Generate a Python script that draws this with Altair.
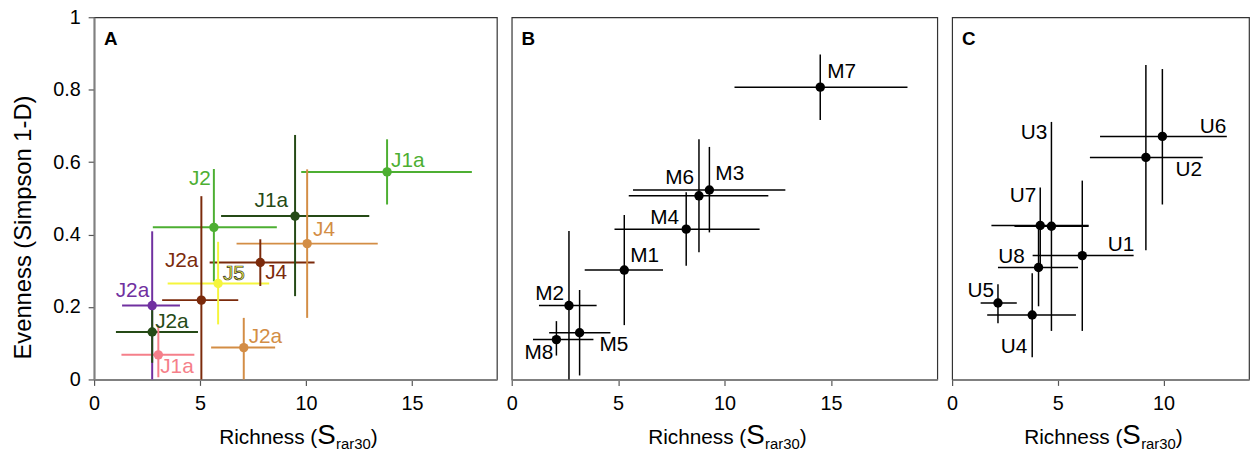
import altair as alt
import pandas as pd

FONT = "Liberation Sans"

# ---------------- Panel A ----------------
a_label = ["J1a", "J1a", "J2", "J4", "J4", "J5", "J2a", "J2a", "J2a", "J2a", "J1a"]
a_series = ["lightgreen", "darkgreen", "lightgreen", "tan", "brown", "yellow",
            "brown", "purple", "darkgreen", "tan", "pink"]
a_x = [13.82, 9.48, 5.65, 10.05, 7.84, 5.85, 5.06, 2.74, 2.74, 7.06, 3.03]
a_y = [0.573, 0.451, 0.420, 0.375, 0.323, 0.265, 0.219, 0.204, 0.131, 0.088, 0.068]
a_xlo = [9.77, 5.99, 2.77, 6.72, 5.45, 3.47, 3.21, 1.32, 1.03, 5.52, 1.29]
a_xhi = [17.82, 12.98, 8.62, 13.38, 10.40, 8.26, 6.80, 4.05, 4.90, 8.54, 4.73]
a_ylo = [0.483, 0.230, 0.271, 0.170, 0.258, 0.152, 0.0, 0.0, 0.046, 0.0, 0.006]
a_yhi = [0.663, 0.675, 0.581, 0.580, 0.387, 0.380, 0.506, 0.409, 0.202, 0.170, 0.150]
a_lx = [14.01, 9.15, 5.51, 10.33, 8.07, 6.08, 4.92, 2.60, 2.88, 7.29, 3.12]
a_ly = [0.603, 0.492, 0.554, 0.413, 0.293, 0.292, 0.328, 0.245, 0.158, 0.118, 0.035]
a_align = ["left", "right", "right", "left", "left", "left", "right", "right", "left", "left", "left"]

palette = {
    "lightgreen": "#4daf32",
    "darkgreen": "#254a16",
    "tan": "#d38d45",
    "brown": "#7b2a0b",
    "yellow": "#f5f53c",
    "purple": "#7030a0",
    "pink": "#f57f8a",
}

# ---------------- Panel B ----------------
b_label = ["M7", "M3", "M6", "M4", "M1", "M2", "M5", "M8"]
b_x = [14.50, 9.29, 8.80, 8.20, 5.29, 2.69, 3.19, 2.10]
b_y = [0.807, 0.523, 0.507, 0.415, 0.302, 0.204, 0.129, 0.110]
b_xlo = [10.47, 5.70, 5.50, 4.83, 3.43, 1.28, 1.76, 1.00]
b_xhi = [18.60, 12.86, 12.06, 11.65, 7.11, 3.99, 4.64, 3.84]
b_ylo = [0.716, 0.406, 0.351, 0.314, 0.150, 0.0, 0.011, 0.066]
b_yhi = [0.897, 0.642, 0.663, 0.517, 0.454, 0.410, 0.247, 0.161]
b_lx = [14.83, 9.57, 8.57, 7.87, 5.57, 2.46, 4.12, 1.96]
b_ly = [0.848, 0.567, 0.556, 0.445, 0.340, 0.237, 0.096, 0.072]
b_align = ["left", "left", "right", "right", "left", "right", "left", "right"]

# ---------------- Panel C ----------------
c_label = ["U6", "U2", "U3", "U7", "U1", "U8", "U5", "U4"]
c_x = [9.95, 9.17, 4.70, 4.17, 6.16, 4.09, 2.17, 3.79]
c_y = [0.671, 0.613, 0.423, 0.425, 0.342, 0.309, 0.211, 0.178]
c_xlo = [7.00, 6.52, 2.95, 1.86, 3.81, 2.17, 1.35, 1.66]
c_xhi = [13.00, 11.86, 6.46, 6.46, 8.59, 5.96, 3.06, 5.86]
c_ylo = [0.483, 0.357, 0.134, 0.316, 0.134, 0.202, 0.155, 0.061]
c_yhi = [0.857, 0.868, 0.711, 0.530, 0.549, 0.423, 0.263, 0.293]
c_lx = [11.72, 10.57, 4.51, 3.98, 7.37, 3.44, 1.98, 3.56]
c_ly = [0.698, 0.577, 0.680, 0.507, 0.372, 0.339, 0.244, 0.090]
c_align = ["left", "left", "right", "right", "left", "right", "right", "right"]

x_ticks = [0, 5, 10, 15]
y_ticks = [0, 0.2, 0.4, 0.6, 0.8, 1]

H = 366


def frame(labels, x, y, xlo, xhi, ylo, yhi, lx, ly, align, series=None):
    d = dict(label=labels, x=x, y=y, xlo=xlo, xhi=xhi, ylo=ylo, yhi=yhi,
             lx=lx, ly=ly, align=align)
    d["series"] = series if series is not None else ["black"] * len(labels)
    return pd.DataFrame(d)


def panel(df, xmax, width, letter, show_y, colored, title_shift):
    xs = alt.Scale(domain=[0, xmax], nice=False, zero=False)
    ys = alt.Scale(domain=[0, 1], nice=False)
    xaxis = alt.Axis(values=x_ticks, title=None, labelFlush=False, grid=False)
    if show_y:
        yaxis = alt.Axis(values=y_ticks, format="~g", title="Evenness (Simpson 1-D)",
                         labelFlush=False, grid=False, titleFontSize=24,
                         titleX=-71, titleY=212, titleBaseline="middle",
                         titleAngle=270)
    else:
        yaxis = None
    if colored:
        col = alt.Color("series:N", legend=None,
                        scale=alt.Scale(domain=list(palette.keys()),
                                        range=list(palette.values())))
        lw = 2
    else:
        col = alt.value("black")
        lw = 1.5
    base = alt.Chart(df)
    hr = base.mark_rule(strokeWidth=lw).encode(
        x=alt.X("xlo:Q", scale=xs, axis=xaxis), x2="xhi:Q",
        y=alt.Y("y:Q", scale=ys, axis=yaxis), color=col)
    vr = base.mark_rule(strokeWidth=lw).encode(
        x=alt.X("x:Q", scale=xs), y=alt.Y("ylo:Q", scale=ys), y2="yhi:Q", color=col)
    pt = base.mark_circle(size=90, opacity=1).encode(
        x=alt.X("x:Q", scale=xs), y=alt.Y("y:Q", scale=ys), color=col)
    layers = [hr, vr, pt]
    for al in ["left", "right"]:
        t = base.transform_filter(alt.datum.align == al).mark_text(
            align=al, baseline="middle", fontSize=21, font=FONT).encode(
            x=alt.X("lx:Q", scale=xs), y=alt.Y("ly:Q", scale=ys),
            text="label:N", color=col,
            stroke=alt.condition(alt.datum.series == "yellow",
                                 alt.value("#333333"), alt.value(None)),
            strokeWidth=alt.value(0.7))
        layers.append(t)
    let = alt.Chart(pd.DataFrame({"t": [letter]})).mark_text(
        align="left", baseline="alphabetic", fontSize=19, fontWeight="bold",
        font=FONT, color="black").encode(
        x=alt.value(10), y=alt.value(28), text="t:N")
    layers.append(let)
    # x-axis title: Richness (S_rar30)
    c = width / 2 + title_shift
    start = c - 77
    x1 = start + 93
    parts = [
        ("Richness (", x1, 431, 21, "right"),
        ("S", x1, 431, 28, "left"),
        ("rar30", x1 + 19, 436, 15, "left"),
        (")", x1 + 19 + 35, 431, 21, "left"),
    ]
    for txt, px, py, fs, al in parts:
        layers.append(alt.Chart(pd.DataFrame({"t": [txt]})).mark_text(
            align=al, baseline="alphabetic", fontSize=fs, font=FONT,
            color="black").encode(x=alt.value(px), y=alt.value(py), text="t:N"))
    return alt.layer(*layers).properties(width=width, height=H)


dfa = frame(a_label, a_x, a_y, a_xlo, a_xhi, a_ylo, a_yhi, a_lx, a_ly, a_align, a_series)
dfb = frame(b_label, b_x, b_y, b_xlo, b_xhi, b_ylo, b_yhi, b_lx, b_ly, b_align)
dfc = frame(c_label, c_x, c_y, c_xlo, c_xhi, c_ylo, c_yhi, c_lx, c_ly, c_align)

pa = panel(dfa, 19, 407, "A", True, True, 6)
pb = panel(dfb, 20, 430, "B", False, False, 6)
pc = panel(dfc, 14.05, 300, "C", False, False, 6)

chart = alt.hconcat(pa, pb, pc, spacing=15, bounds="flush").resolve_scale(
    x="independent", y="independent", color="independent"
).properties(
    padding={"left": 3, "top": -4, "right": 0, "bottom": 0}
).configure(font=FONT).configure_view(
    stroke="#333333", strokeWidth=1.2
).configure_axis(
    domainColor="#808080", domainWidth=2, tickColor="#555555", tickWidth=1.2,
    tickSize=6, labelFontSize=20, labelColor="black", labelFont=FONT,
    labelPadding=8, titleFont=FONT, titleFontWeight="normal", titleColor="black"
)

chart.save("out.html", embed_options={"renderer": "svg", "actions": False})
